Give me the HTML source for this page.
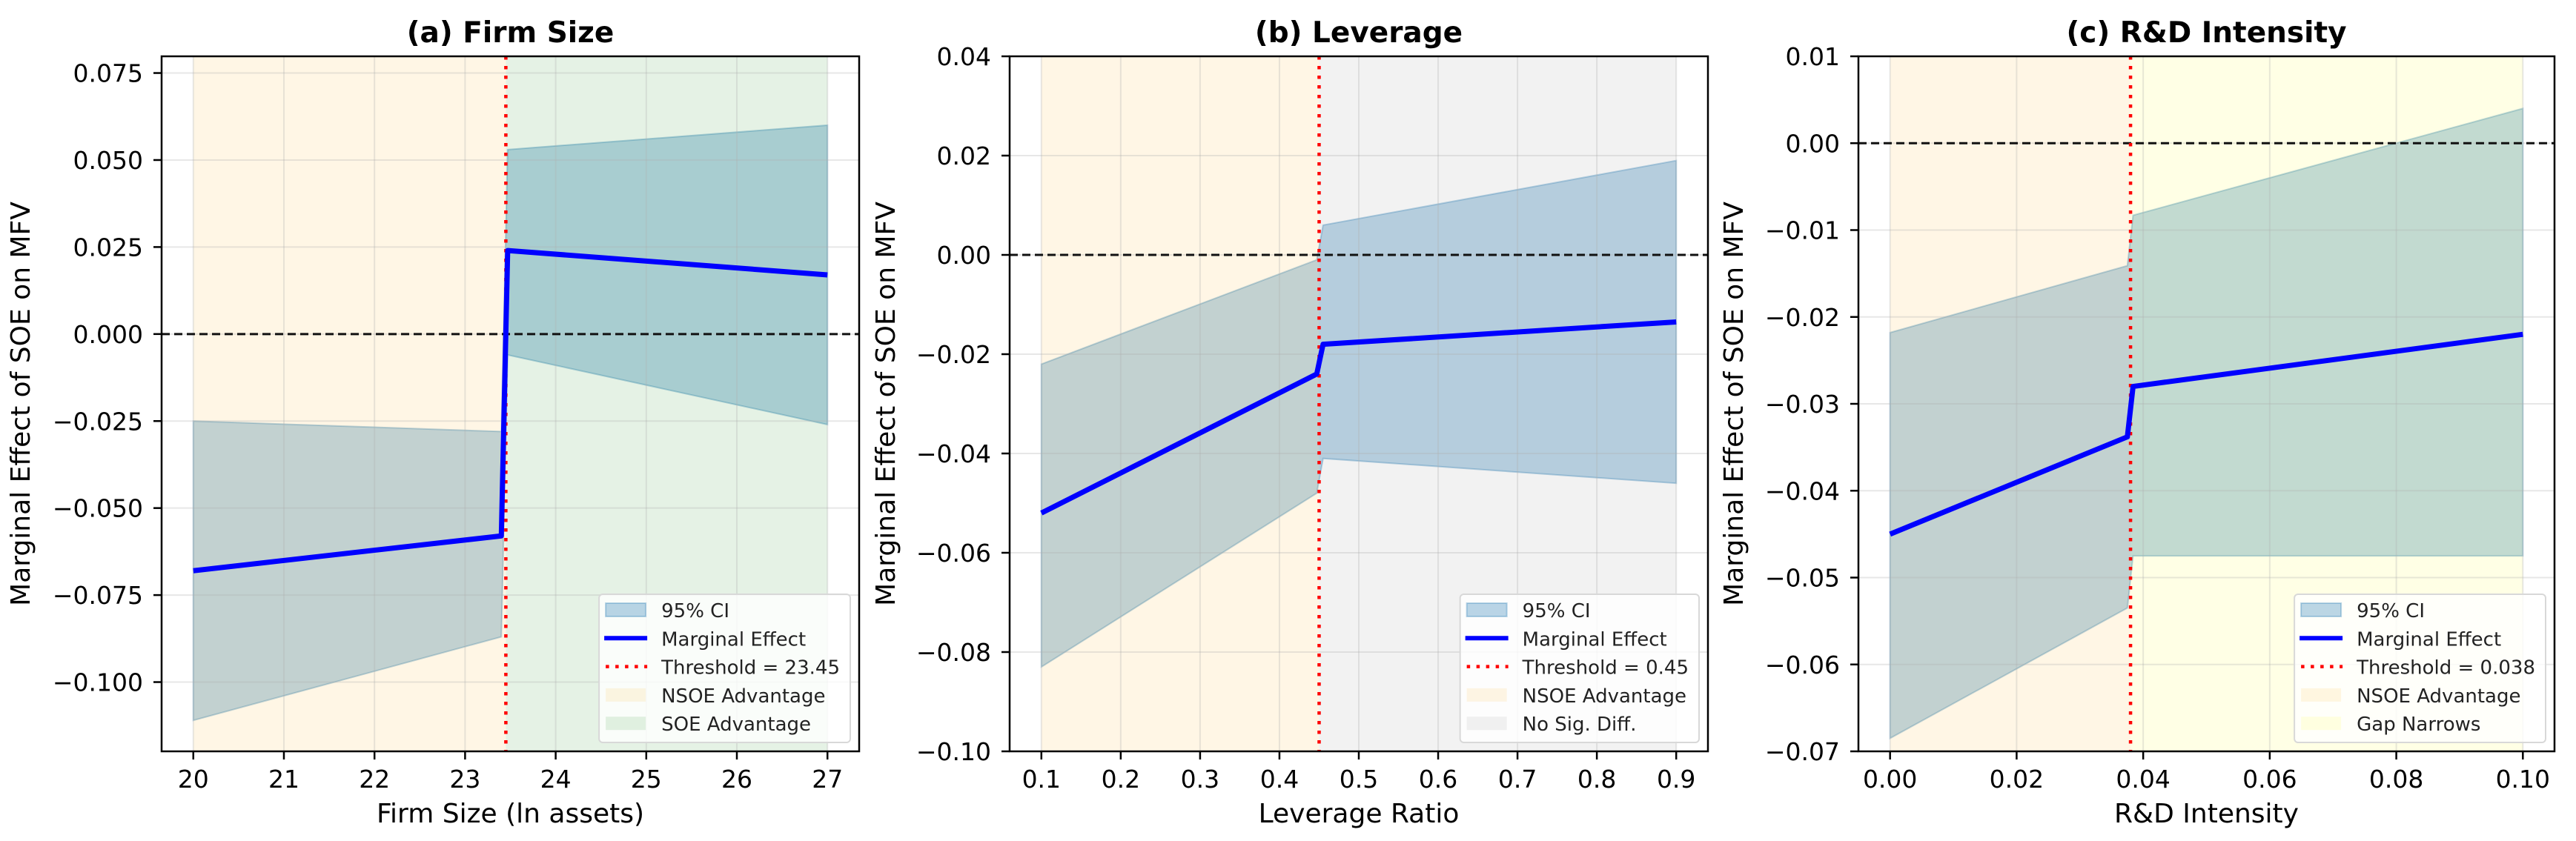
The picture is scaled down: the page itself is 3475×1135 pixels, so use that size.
<!DOCTYPE html>
<html><head><meta charset="utf-8">
<style>
html,body{margin:0;padding:0;background:#fff;}
svg{display:block;font-family:"DejaVu Sans","Liberation Sans",sans-serif;}
</style></head>
<body>
<svg id="fig" width="3475" height="1135" viewBox="0 0 3475 1135" xmlns="http://www.w3.org/2000/svg"></svg>
<script>
// ---- Panel (a) Firm Size ----
const aX = [20, 23.4, 23.47, 27];
const aEffect = [-0.068, -0.058, 0.024, 0.017];
const aLower = [-0.111, -0.087, -0.006, -0.026];
const aUpper = [-0.025, -0.028, 0.053, 0.060];
const aThreshold = 23.45;
const aXTicks = [20, 21, 22, 23, 24, 25, 26, 27];
const aYTicks = [-0.100, -0.075, -0.050, -0.025, 0.000, 0.025, 0.050, 0.075];
// ---- Panel (b) Leverage ----
const bX = [0.1, 0.447, 0.455, 0.9];
const bEffect = [-0.052, -0.024, -0.018, -0.0135];
const bLower = [-0.083, -0.048, -0.041, -0.046];
const bUpper = [-0.022, -0.001, 0.006, 0.019];
const bThreshold = 0.45;
const bXTicks = [0.1, 0.2, 0.3, 0.4, 0.5, 0.6, 0.7, 0.8, 0.9];
const bYTicks = [-0.10, -0.08, -0.06, -0.04, -0.02, 0.00, 0.02, 0.04];
// ---- Panel (c) R&D Intensity ----
const cX = [0, 0.0375, 0.0384, 0.1];
const cEffect = [-0.045, -0.0338, -0.028, -0.022];
const cLower = [-0.0685, -0.0535, -0.0475, -0.0475];
const cUpper = [-0.0218, -0.0141, -0.0083, 0.004];
const cThreshold = 0.038;
const cXTicks = [0.00, 0.02, 0.04, 0.06, 0.08, 0.10];
const cYTicks = [-0.07, -0.06, -0.05, -0.04, -0.03, -0.02, -0.01, 0.00, 0.01];

const NS = "http://www.w3.org/2000/svg";
const fig = document.getElementById('fig');
function el(tag, attrs, parent){
  const e = document.createElementNS(NS, tag);
  for (const k in attrs) e.setAttribute(k, attrs[k]);
  (parent || fig).appendChild(e);
  return e;
}
function fmt(v, d){ const s = Math.abs(v).toFixed(d); return (v < -1e-12 ? "\u2212" : "") + s; }

function panel(p){
  const L = p.left, R = p.right, T = 76, B = 1014;
  const sx = v => L + (v - p.xlim[0]) / (p.xlim[1] - p.xlim[0]) * (R - L);
  const sy = v => B - (v - p.ylim[0]) / (p.ylim[1] - p.ylim[0]) * (B - T);
  const g = el('g', {});
  
  
  const clipId = 'clip-' + p.name;
  const cp = el('clipPath', {id: clipId}, g);
  el('rect', {x: L, y: T, width: R - L, height: B - T}, cp);
  const plot = el('g', {'clip-path': 'url(#' + clipId + ')'}, g);

  let d = '';
  p.x.forEach((v, i) => { d += (i ? 'L' : 'M') + sx(v) + ',' + sy(p.hi[i]); });
  for (let i = p.x.length - 1; i >= 0; i--) d += 'L' + sx(p.x[i]) + ',' + sy(p.lo[i]);
  const ci = el('path', {d: d + 'Z', fill: '#1f77b4', 'fill-opacity': 0.3, stroke: '#1f77b4', 'stroke-opacity': 0.3, 'stroke-width': 2}, plot);
  
  

  const s1 = el('rect', {x: sx(p.x[0]), y: T, width: sx(p.threshold) - sx(p.x[0]), height: B - T, fill: 'orange', 'fill-opacity': 0.1}, plot);
  
  
  const s2 = el('rect', {x: sx(p.threshold), y: T, width: sx(p.x[p.x.length - 1]) - sx(p.threshold), height: B - T, fill: p.span2, 'fill-opacity': 0.1}, plot);
  
  

  p.xticks.forEach(t => {
    const gl = el('line', {x1: sx(t), x2: sx(t), y1: T, y2: B, stroke: '#b0b0b0', 'stroke-opacity': 0.3, 'stroke-width': 2}, plot);
    
    
  });
  p.yticks.forEach(t => {
    const gl = el('line', {x1: L, x2: R, y1: sy(t), y2: sy(t), stroke: '#b0b0b0', 'stroke-opacity': 0.3, 'stroke-width': 2}, plot);
    
    
  });

  const z = el('line', {x1: L, x2: R, y1: sy(0), y2: sy(0), stroke: '#111', 'stroke-width': 3, 'stroke-dasharray': '11 6'}, plot);
  
  
  const th = el('line', {x1: sx(p.threshold), x2: sx(p.threshold), y1: T, y2: B, stroke: '#ff0000', 'stroke-width': 4.5, 'stroke-dasharray': '4.5 8.5'}, plot);
  
  
  const pts = p.x.map((v, i) => sx(v) + ',' + sy(p.y[i])).join(' ');
  const me = el('polyline', {points: pts, fill: 'none', stroke: '#0000ff', 'stroke-width': 7, 'stroke-linejoin': 'round'}, plot);
  
  

  el('rect', {x: L, y: T, width: R - L, height: B - T, fill: 'none', stroke: '#000', 'stroke-width': 2.5}, g);

  p.xticks.forEach(t => {
    el('line', {x1: sx(t), x2: sx(t), y1: B, y2: B + 11, stroke: '#000', 'stroke-width': 2.5}, g);
    const tl = el('text', {x: sx(t), y: 1063, 'font-size': 33, 'text-anchor': 'middle', fill: '#000'}, g);
    tl.textContent = p.xfmt(t);
    
    
  });
  p.yticks.forEach(t => {
    el('line', {x1: L - 11, x2: L, y1: sy(t), y2: sy(t), stroke: '#000', 'stroke-width': 2.5}, g);
    const tl = el('text', {x: L - 25, y: sy(t) + 12, 'font-size': 33, 'text-anchor': 'end', fill: '#000'}, g);
    tl.textContent = fmt(t, p.yd);
    
    
  });

  const title = el('text', {x: (L + R) / 2, y: 57, 'font-size': 39, 'font-weight': 'bold', 'text-anchor': 'middle'}, g);
  title.textContent = p.title;
  
  
  const xl = el('text', {x: (L + R) / 2, y: 1110, 'font-size': 36, 'text-anchor': 'middle'}, g);
  xl.textContent = p.xlabel;
  
  
  const yl = el('text', {x: 0, y: 0, 'font-size': 36, 'text-anchor': 'middle', transform: 'translate(' + (p.ylabelX + 13) + ',' + ((T + B) / 2) + ') rotate(-90)'}, g);
  yl.textContent = 'Marginal Effect of SOE on MFV';
  
  

  const lg = el('g', {}, g);
  
  
  const box = el('rect', {rx: 5, fill: '#fff', 'fill-opacity': 0.8, stroke: '#d8d8d8', 'stroke-width': 2}, lg);
  const labels = ['95% CI', 'Marginal Effect', 'Threshold = ' + p.thLabel, 'NSOE Advantage', p.span2Label];
  const texts = labels.map((s, i) => {
    const t = el('text', {x: 0, y: 0, 'font-size': 26, fill: '#222'}, lg);
    t.textContent = s;
    
    
    return t;
  });
  let maxW = 0; texts.forEach(t => { maxW = Math.max(maxW, t.getComputedTextLength()); });
  const bw = maxW + 98, bh = 200;
  const bx = R - 12 - bw, by = B - 12 - bh;
  box.setAttribute('x', bx); box.setAttribute('y', by);
  box.setAttribute('width', bw); box.setAttribute('height', bh);
  texts.forEach((t, i) => { t.setAttribute('x', bx + 84); t.setAttribute('y', by + 31 + i * 38.3); });
  const ry = i => by + 21 + i * 38.3;
  el('rect', {x: bx + 9, y: ry(0) - 9, width: 54, height: 18, fill: '#1f77b4', 'fill-opacity': 0.3, stroke: '#1f77b4', 'stroke-opacity': 0.3, 'stroke-width': 2}, lg);
  el('line', {x1: bx + 7, x2: bx + 65, y1: ry(1), y2: ry(1), stroke: '#0000ff', 'stroke-width': 6}, lg);
  el('line', {x1: bx + 9, x2: bx + 65, y1: ry(2), y2: ry(2), stroke: '#ff0000', 'stroke-width': 4.5, 'stroke-dasharray': '4.5 8.5'}, lg);
  el('rect', {x: bx + 9, y: ry(3) - 9, width: 54, height: 18, fill: 'orange', 'fill-opacity': 0.1}, lg);
  el('rect', {x: bx + 9, y: ry(4) - 9, width: 54, height: 18, fill: p.span2, 'fill-opacity': 0.1}, lg);
}

panel({name: 'panel-firm-size', left: 218, right: 1159, xlim: [19.65, 27.35], ylim: [-0.1199, 0.0798],
  x: aX, y: aEffect, lo: aLower, hi: aUpper, threshold: aThreshold, xticks: aXTicks, yticks: aYTicks,
  xfmt: t => String(t), yd: 3, title: '(a) Firm Size', xlabel: 'Firm Size (ln assets)', ylabelX: 27,
  span2: 'green', span2Label: 'SOE Advantage', thLabel: '23.45'});
panel({name: 'panel-leverage', left: 1362, right: 2304, xlim: [0.06, 0.94], ylim: [-0.10, 0.04],
  x: bX, y: bEffect, lo: bLower, hi: bUpper, threshold: bThreshold, xticks: bXTicks, yticks: bYTicks,
  xfmt: t => t.toFixed(1), yd: 2, title: '(b) Leverage', xlabel: 'Leverage Ratio', ylabelX: 1194,
  span2: 'gray', span2Label: 'No Sig. Diff.', thLabel: '0.45'});
panel({name: 'panel-rd-intensity', left: 2507, right: 3446, xlim: [-0.005, 0.105], ylim: [-0.07, 0.01],
  x: cX, y: cEffect, lo: cLower, hi: cUpper, threshold: cThreshold, xticks: cXTicks, yticks: cYTicks,
  xfmt: t => t.toFixed(2), yd: 2, title: '(c) R&D Intensity', xlabel: 'R&D Intensity', ylabelX: 2338,
  span2: 'yellow', span2Label: 'Gap Narrows', thLabel: '0.038'});
</script>
</body></html>
